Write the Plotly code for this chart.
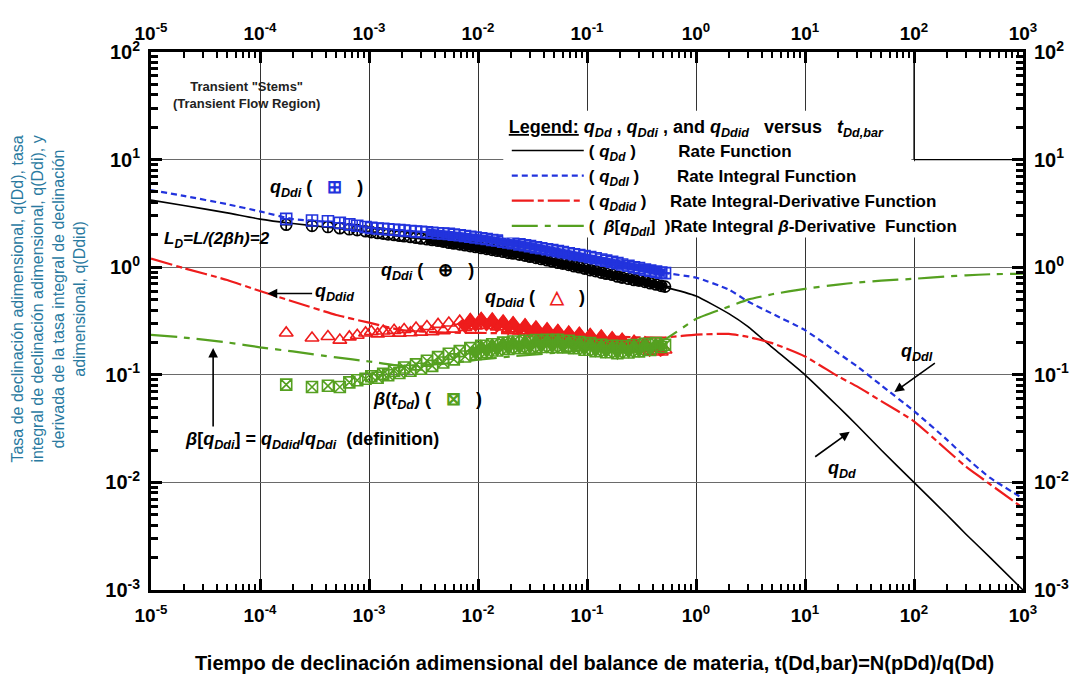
import plotly.graph_objects as go

# ---------------- data ----------------
t_line = [1e-5, 2e-5, 5e-5, 1e-4, 2e-4, 5e-4, 1e-3, 2e-3, 5e-3, 1e-2, 2e-2, 5e-2,
          0.1, 0.2, 0.5, 1, 2, 3, 5, 10, 20, 30, 50, 100, 200, 300, 500, 1000]
q_dd_line = [4.2, 3.75, 3.2, 2.8, 2.55, 2.3, 2.1, 1.93, 1.72, 1.53, 1.35, 1.12,
             0.96, 0.82, 0.66, 0.54, 0.37, 0.28, 0.18, 0.1, 0.051, 0.034, 0.02, 0.01,
             0.005, 0.0033, 0.002, 0.001]
q_ddi_line = [5.2, 4.6, 3.85, 3.3, 2.8, 2.6, 2.33, 2.2, 2.05, 1.89, 1.7, 1.45,
              1.26, 1.07, 0.89, 0.8, 0.62, 0.48, 0.37, 0.26, 0.16, 0.12, 0.08, 0.046,
              0.025, 0.017, 0.011, 0.0071]
q_ddid_line = [1.2, 0.98, 0.76, 0.6, 0.48, 0.36, 0.305, 0.26, 0.247, 0.245, 0.243, 0.238,
               0.232, 0.225, 0.222, 0.236, 0.24, 0.225, 0.197, 0.148, 0.097, 0.078, 0.057,
               0.037, 0.02, 0.014, 0.0096, 0.0058]
beta_line = [0.235, 0.222, 0.2, 0.18, 0.165, 0.145, 0.133, 0.121, 0.127, 0.138, 0.148, 0.16,
             0.17, 0.18, 0.21, 0.33, 0.43, 0.5, 0.56, 0.63, 0.69, 0.72, 0.75, 0.78,
             0.82, 0.84, 0.86, 0.87]

t_obs = [1.74e-4, 3.0e-4, 4.2e-4, 5.4e-4, 6.6e-4, 7.8e-4, 9.3e-4, 1.05e-3, 1.2e-3, 1.35e-3,
         1.5e-3, 1.7e-3, 1.9e-3, 2.1e-3, 2.4e-3, 2.7e-3, 3.0e-3, 3.4e-3, 3.8e-3, 4.3e-3,
         4.8e-3, 5.4e-3, 6.0e-3, 6.8e-3, 7.6e-3, 8.5e-3, 9.5e-3, 0.0107, 0.012, 0.0135,
         0.015, 0.017, 0.019, 0.021, 0.024, 0.027, 0.030, 0.034, 0.038, 0.043,
         0.048, 0.054, 0.060, 0.068, 0.076, 0.085, 0.095, 0.107, 0.12, 0.135,
         0.15, 0.17, 0.19, 0.21, 0.24, 0.27, 0.30, 0.34, 0.38, 0.43,
         0.48, 0.52]
q_ddi_obs = [2.81, 2.72, 2.67, 2.58, 2.50, 2.43, 2.36, 2.32, 2.29, 2.27,
             2.25, 2.23, 2.21, 2.19, 2.17, 2.15, 2.13, 2.11, 2.09, 2.07,
             2.06, 2.04, 2.01, 1.98, 1.95, 1.92, 1.89, 1.86, 1.83, 1.79,
             1.77, 1.73, 1.70, 1.67, 1.63, 1.60, 1.57, 1.53, 1.50, 1.47,
             1.44, 1.41, 1.38, 1.35, 1.32, 1.30, 1.27, 1.24, 1.21, 1.18,
             1.15, 1.12, 1.09, 1.06, 1.03, 1.00, 0.98, 0.95, 0.93, 0.91,
             0.89, 0.88]
q_dd_obs = [2.48, 2.42, 2.36, 2.30, 2.25, 2.21, 2.16, 2.12, 2.08, 2.05,
            2.02, 1.99, 1.96, 1.94, 1.91, 1.88, 1.85, 1.82, 1.79, 1.76,
            1.73, 1.69, 1.66, 1.63, 1.60, 1.57, 1.54, 1.51, 1.48, 1.45,
            1.42, 1.39, 1.36, 1.34, 1.31, 1.28, 1.25, 1.22, 1.19, 1.16,
            1.13, 1.10, 1.08, 1.05, 1.02, 1.00, 0.97, 0.94, 0.92, 0.89,
            0.87, 0.85, 0.82, 0.80, 0.78, 0.76, 0.75, 0.73, 0.71, 0.69,
            0.67, 0.66]
q_ddid_obs = [0.245, 0.22, 0.227, 0.21, 0.225, 0.233, 0.245, 0.252, 0.240, 0.255,
              0.243, 0.259, 0.244, 0.264, 0.246, 0.272, 0.249, 0.281, 0.252, 0.294,
              0.257, 0.303, 0.266, 0.315, 0.276, 0.326, 0.285, 0.334, 0.287, 0.329,
              0.279, 0.316, 0.267, 0.305, 0.256, 0.291, 0.245, 0.278, 0.234, 0.267,
              0.226, 0.258, 0.219, 0.249, 0.212, 0.243, 0.206, 0.237, 0.201, 0.229,
              0.194, 0.221, 0.187, 0.214, 0.180, 0.205, 0.174, 0.198, 0.166, 0.187,
              0.163, 0.17]
beta_obs = [0.081, 0.077, 0.079, 0.077, 0.085, 0.089, 0.092, 0.097, 0.094, 0.102,
            0.099, 0.109, 0.104, 0.117, 0.109, 0.125, 0.114, 0.135, 0.121, 0.146,
            0.130, 0.157, 0.139, 0.166, 0.148, 0.177, 0.156, 0.186, 0.163, 0.192,
            0.168, 0.199, 0.174, 0.204, 0.177, 0.207, 0.179, 0.210, 0.181, 0.211,
            0.181, 0.211, 0.180, 0.207, 0.177, 0.202, 0.171, 0.197, 0.166, 0.190,
            0.162, 0.186, 0.159, 0.185, 0.161, 0.189, 0.165, 0.194, 0.170, 0.197,
            0.181, 0.19]

x_decades = [-5, -4, -3, -2, -1, 0, 1, 2, 3]
y_decades = [-3, -2, -1, 0, 1, 2]
x_ticktext = ["10<sup>%d</sup>" % d for d in x_decades]
y_ticktext = ["10<sup>%d</sup>" % d for d in y_decades]

BLACK = "#000000"
BLUE = "#2233dd"
RED = "#ee1c1c"
GREEN = "#55a020"
TEAL = "#2a7aa0"
FONT = "Liberation Sans, Arial, sans-serif"
NB = "\u00a0"

fig = go.Figure()

# ---------------- curves ----------------
line_defs = [
    (q_dd_line, BLACK, "solid", 1.6,
     "( <i>q<sub>Dd</sub></i> )" + NB * 9 + "Rate Function"),
    (q_ddi_line, BLUE, "6px,4px", 2.2,
     "( <i>q<sub>DdI</sub></i> )" + NB * 8 + "Rate Integral Function"),
    (q_ddid_line, RED, "22px,4px,6px,4px", 2.2,
     "( <i>q<sub>Ddid</sub></i> )" + NB * 5 + "Rate Integral-Derivative Function"),
    (beta_line, GREEN, "26px,7px,6px,7px", 2.2,
     "(" + NB * 2 + "<i>\u03b2</i>[<i>q<sub>DdI</sub></i>]" + NB * 2 + ")Rate Integral <i>\u03b2</i>-Derivative" + NB * 2 + "Function"),
]
for vals, col, dash, w, name in line_defs:
    fig.add_trace(go.Scatter(
        x=t_line, y=vals, mode="lines", name=name,
        line=dict(color=col, dash=dash, width=w, shape="spline", smoothing=0.5),
        hoverinfo="skip"))

# ---------------- observed points (dense part drawn as a filled band) ----------------
marker_defs = [
    (q_dd_obs, BLACK, "circle-cross-open", 11, 17, 8),
    (q_ddi_obs, BLUE, "square-cross-open", 11, 17, 8),
    (q_ddid_obs, RED, "triangle-up-open", 12, 23, 8),
    (beta_obs, GREEN, "square-x-open", 11, 25, 8),
]
for vals, col, sym, size, dense_from, band_w in marker_defs:
    fig.add_trace(go.Scatter(
        x=t_obs[dense_from:], y=vals[dense_from:], mode="lines", showlegend=False,
        hoverinfo="skip", line=dict(color=col, width=band_w)))
    fig.add_trace(go.Scatter(
        x=t_obs, y=vals, mode="markers", showlegend=False, hoverinfo="skip",
        marker=dict(symbol=sym, size=size, color=col, line=dict(color=col, width=1.6))))

# invisible trace to carry the mirrored (top/right) axes
fig.add_trace(go.Scatter(x=t_line, y=q_dd_line, xaxis="x2", yaxis="y2", mode="lines",
                         line=dict(width=0), opacity=0, showlegend=False, hoverinfo="skip"))

minor_x = [m * 10 ** d for d in x_decades[:-1] for m in range(2, 10)]
minor_y = [m * 10 ** d for d in y_decades[:-1] for m in range(2, 10)]

xaxis_common = dict(
    type="log", range=[-5, 3], tickmode="array",
    tickvals=[10 ** d for d in x_decades], ticktext=x_ticktext,
    ticks="inside", ticklen=11, tickwidth=2.5, tickcolor=BLACK,
    showline=True, linewidth=3, linecolor=BLACK, zeroline=False,
    tickfont=dict(family=FONT, size=19, color=BLACK, weight="bold"),
    minor=dict(tickmode="array", tickvals=minor_x, ticks="inside", ticklen=6,
               tickwidth=2, tickcolor=BLACK, showgrid=False),
)
yaxis_common = dict(
    type="log", range=[-3, 2], tickmode="array",
    tickvals=[10 ** d for d in y_decades], ticktext=y_ticktext,
    ticks="inside", ticklen=11, tickwidth=2.5, tickcolor=BLACK,
    showline=True, linewidth=3, linecolor=BLACK, zeroline=False,
    tickfont=dict(family=FONT, size=20, color=BLACK, weight="bold"),
    minor=dict(tickmode="array", tickvals=minor_y, ticks="inside", ticklen=7,
               tickwidth=2.5, tickcolor=BLACK, showgrid=False),
)

# page body has an 8px margin, so the figure is 8px smaller and margins shifted
fig.update_layout(
    width=1073, height=669,
    margin=dict(l=143, r=54, t=43, b=87),
    paper_bgcolor="white", plot_bgcolor="white",
    font=dict(family=FONT, color=BLACK),
    xaxis=dict(**xaxis_common, showgrid=True, gridcolor="#333333", gridwidth=1,
               ticklabelstandoff=6),
    xaxis2=dict(**xaxis_common, overlaying="x", side="top", showgrid=False,
                ticklabelstandoff=1),
    yaxis=dict(**yaxis_common, showgrid=True, gridcolor="#6a6a6a", gridwidth=1,
               ticklabelstandoff=4),
    yaxis2=dict(**yaxis_common, overlaying="y", side="right", showgrid=False,
                ticklabelstandoff=4),
    showlegend=True,
    legend=dict(
        x=0.408, y=0.893, xanchor="left", yanchor="top",
        bgcolor="rgba(0,0,0,0)", borderwidth=0,
        font=dict(family=FONT, size=17, color=BLACK, weight="bold"),
        title=dict(text="<u>Legend:</u> <i>q<sub>Dd</sub></i> , <i>q<sub>Ddi</sub></i> , and "
                        "<i>q<sub>Ddid</sub></i>" + NB * 3 + "versus" + NB * 3 + "<i>t<sub>Dd,bar</sub></i>",
                   font=dict(family=FONT, size=18, color=BLACK, weight="bold")),
        itemwidth=72, tracegroupgap=0,
    ),
    # blank panel behind the legend (hides the grid there) and its frame corner
    shapes=[
        dict(type="rect", xref="paper", yref="paper", x0=0.404, x1=0.872, y0=0.655, y1=0.891,
             fillcolor="white", line=dict(width=0), layer="above"),
        dict(type="rect", xref="paper", yref="paper", x0=0.872, x1=0.969, y0=0.655, y1=0.797,
             fillcolor="white", line=dict(width=0), layer="above"),
        dict(type="line", xref="paper", yref="paper", x0=0.875, x1=1.0, y0=0.8, y1=0.8,
             line=dict(color=BLACK, width=1.2), layer="above"),
        dict(type="line", xref="paper", yref="paper", x0=0.875, x1=0.875, y0=0.8, y1=1.0,
             line=dict(color=BLACK, width=1.2), layer="above"),
    ],
)

ann_font = dict(family=FONT, size=18, color=BLACK, weight="bold")
annotations = [
    dict(x=-4.12, y=1.60, text="Transient \"Stems\"<br>(Transient Flow Region)",
         font=dict(family=FONT, size=13, color="#222222", weight="bold"),
         xanchor="center", yanchor="middle"),
    dict(x=-3.93, y=0.73,
         text="<i>q<sub>Ddi</sub></i> (" + NB * 3 + "<span style='color:%s'>\u229e</span>" % BLUE + NB * 3 + ")",
         font=ann_font, xanchor="left", yanchor="middle"),
    dict(x=-4.90, y=0.25, text="<i>L<sub>D</sub>=L/(2\u03b2h)=2</i>",
         font=dict(family=FONT, size=17, color=BLACK, weight="bold"),
         xanchor="left", yanchor="middle"),
    dict(x=-2.91, y=-0.04,
         text="<i>q<sub>Ddi</sub></i> (" + NB * 3 + "\u2295" + NB * 3 + ")",
         font=ann_font, xanchor="left", yanchor="middle"),
    dict(x=-1.95, y=-0.29,
         text="<i>q<sub>Ddid</sub></i> (" + NB * 3 + "<span style='color:%s'>\u25b3</span>" % RED + NB * 3 + ")",
         font=ann_font, xanchor="left", yanchor="middle"),
    dict(x=-3.51, y=-0.235, text="<i>q<sub>Ddid</sub></i>",
         font=ann_font, xanchor="left", yanchor="middle"),
    dict(x=-2.98, y=-1.24,
         text="<i>\u03b2</i>(<i>t<sub>Dd</sub></i>) (" + NB * 3 + "<span style='color:%s'>\u22a0</span>" % GREEN + NB * 3 + ")",
         font=ann_font, xanchor="left", yanchor="middle"),
    dict(x=-4.71, y=-1.61,
         text="<i>\u03b2</i>[<i>q<sub>Ddi</sub></i>] = <i>q<sub>Ddid</sub></i>/<i>q<sub>Ddi</sub></i>" + NB * 2 + "(definition)",
         font=ann_font, xanchor="left", yanchor="middle"),
    dict(x=2.03, y=-0.79, text="<i>q<sub>DdI</sub></i>",
         font=ann_font, xanchor="center", yanchor="middle"),
    dict(x=1.34, y=-1.88, text="<i>q<sub>Dd</sub></i>",
         font=ann_font, xanchor="center", yanchor="middle"),
]
# arrows (text-less annotations)
arrows = [
    dict(x=-3.93, y=-0.245, ax=46, ay=0),
    dict(x=-4.43, y=-0.75, ax=0, ay=80),
    dict(x=1.82, y=-1.16, ax=42, ay=-30),
    dict(x=1.41, y=-1.53, ax=-36, ay=26),
]
for a in annotations:
    a.update(xref="x", yref="y", showarrow=False)
    fig.add_annotation(**a)
for a in arrows:
    fig.add_annotation(xref="x", yref="y", text="", showarrow=True, arrowhead=2,
                       arrowsize=1.2, arrowwidth=1.6, arrowcolor=BLACK, standoff=0, **a)

# axis titles
fig.add_annotation(
    xref="paper", yref="paper", x=-0.118, y=0.54, textangle=-90,
    text="Tasa de declinación adimensional, q(Dd), tasa<br>"
         "integral de declinación adimensional, q(Ddi), y<br>"
         "derivada de la tasa integral de declinación<br>"
         "adimensional, q(Ddid)",
    font=dict(family="Liberation Sans Narrow, Liberation Sans, Arial", size=16, color=TEAL),
    showarrow=False, xanchor="center", yanchor="middle", align="center")
fig.add_annotation(
    xref="paper", yref="paper", x=0.509, y=-0.135,
    text="Tiempo de declinación adimensional del balance de materia, t(Dd,bar)=N(pDd)/q(Dd)",
    font=dict(family=FONT, size=20, color=BLACK, weight="bold"),
    showarrow=False, xanchor="center", yanchor="middle")

fig.write_html("out.html", config={"displayModeBar": False})
